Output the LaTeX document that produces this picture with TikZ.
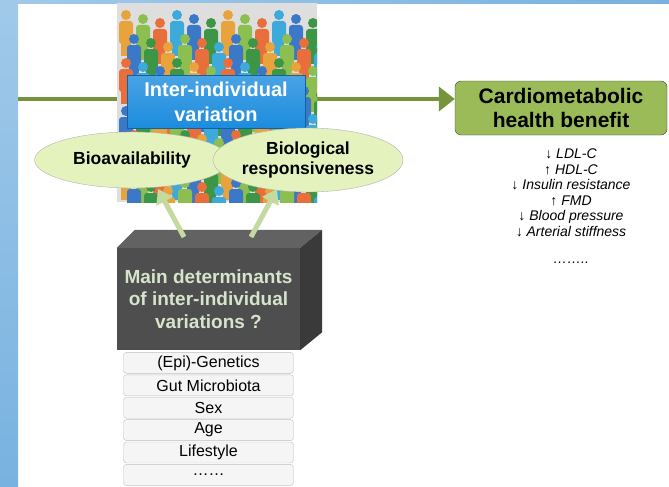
\documentclass[tikz,border=0pt]{standalone}
\usepackage{fontspec}
\setmainfont{Liberation Sans}
\usetikzlibrary{shapes.geometric, arrows.meta, positioning, calc}

\definecolor{stripblue}{RGB}{120,178,224}
\definecolor{linegreen}{RGB}{119,147,60}
\definecolor{crowdgray}{RGB}{222,222,222}
\definecolor{varblue}{RGB}{28,140,222}
\definecolor{traitfill}{RGB}{228,242,190}
\definecolor{feedgreen}{RGB}{196,218,160}
\definecolor{cubefront}{RGB}{78,78,78}
\definecolor{cubetop}{RGB}{98,98,98}
\definecolor{cubeside}{RGB}{58,58,58}
\definecolor{cubetext}{RGB}{214,228,204}
\definecolor{healthgreen}{RGB}{155,187,89}
\definecolor{p0}{RGB}{232,163,60}
\definecolor{p1}{RGB}{60,150,70}
\definecolor{p2}{RGB}{60,120,200}
\definecolor{p3}{RGB}{62,170,220}
\definecolor{p4}{RGB}{232,110,60}
\definecolor{p5}{RGB}{140,190,80}

\tikzset{
  factor/.style={draw=black!25, fill=black!4, rounded corners=3pt, minimum width=170pt,
    minimum height=21pt, inner sep=0pt, font=\fontsize{16}{16}\selectfont},
  trait/.style={ellipse, draw=black!30, fill=traitfill, align=center, inner sep=0pt,
    font=\bfseries\fontsize{17.5}{20}\selectfont},
  feed/.style={line width=5pt, draw=feedgreen, -{Triangle[length=14pt,width=18pt]}},
}

% one figure of the crowd: x, y of the head top, colour
\newcommand{\person}[3]{%
  \fill[#3] (#1,#2+5) circle (5pt);
  \fill[#3, rounded corners=3pt] (#1-7,#2+11) rectangle (#1+7,#2+34);
  \fill[#3] (#1-5,#2+30) rectangle (#1+5,#2+46);
}

\begin{document}
\begin{tikzpicture}[x=1pt, y=-1pt]
\useasboundingbox (0,0) rectangle (669,487);

% frame of the slide
\shade[top color=stripblue!70, bottom color=stripblue] (0,0) rectangle (18,487);
\shade[left color=stripblue!70, right color=stripblue] (18,0) rectangle (669,4);

\node[draw=black!75, fill=healthgreen, rounded corners=6pt, minimum width=212pt, minimum height=54pt,
  align=center, font=\bfseries\fontsize{21}{24}\selectfont] (cardio) at (561,108) {Cardiometabolic\\health benefit};

\coordinate (src) at (18,99);
\draw[line width=4pt, linegreen, -{Triangle[length=16pt,width=24pt]}] (src) -- (src -| cardio.west);

% crowd
\fill[crowdgray] (117,3) rectangle (317,202);
\begin{scope}
\clip (117,3) rectangle (317,202);
\foreach \r in {0,...,7} {
  \foreach \i in {0,...,11} {
    \pgfmathtruncatemacro{\c}{mod(\i*5+\r*2,6)}
    \pgfmathsetmacro{\px}{126+\i*17+mod(\r,2)*8}
    \pgfmathsetmacro{\py}{10+\r*24+mod(\i,3)*4}
    \person{\px}{\py}{p\c}
  }
}
\end{scope}

\node[draw=varblue!70!black, top color=varblue!80!white, bottom color=varblue, minimum width=178pt,
  minimum height=53pt, text=white, align=center, font=\bfseries\fontsize{20}{25}\selectfont]
  (var) at (216,101.5) {Inter-individual\\variation};

% determinants box
\node[fill=cubefront, minimum width=183pt, minimum height=102pt, text=cubetext, align=center,
  font=\bfseries\fontsize{19}{22.5}\selectfont] (det) at (208.5,299) {Main determinants\\of inter-individual\\variations ?};
\fill[cubetop] (det.north west) -- ++(18,-18) -- ($(det.north east)+(22,-18)$) -- (det.north east) -- cycle;
\fill[cubeside] (det.north east) -- ++(22,-18) -- ($(det.south east)+(22,-18)$) -- (det.south east) -- cycle;

\coordinate (t1) at (184,237);
\coordinate (t2) at (251,237);
\coordinate (h1) at (158,189);
\coordinate (h2) at (277,189);
\draw[feed] (t1) -- (h1);
\draw[feed] (t2) -- (h2);

\node[trait, minimum width=195pt, minimum height=56pt] (bio) at (132,160) {Bioavailability};
\node[trait, minimum width=190pt, minimum height=64pt] (resp) at (308,160) {Biological\\responsiveness};

\node[factor, below=2pt of det] (f1) {(Epi)-Genetics};
\node[factor, below=1pt of f1] (f2) {Gut Microbiota};
\node[factor, below=1pt of f2] (f3) {Sex};
\node[factor, below=1pt of f3] (f4) {Age};
\node[factor, below=1pt of f4] (f5) {Lifestyle};
\node[factor, below=1pt of f5] (f6) {……};

\node[below=10pt of cardio, xshift=10pt, align=center, font=\itshape\fontsize{14}{15.5}\selectfont] (effects) {%
  \textup{↓} LDL-C\\
  \textup{↑} HDL-C\\
  \textup{↓} Insulin resistance\\
  \textup{↑} FMD\\
  \textup{↓} Blood pressure\\
  \textup{↓} Arterial stiffness\\[12pt]
  ……..};
\end{tikzpicture}
\end{document}
